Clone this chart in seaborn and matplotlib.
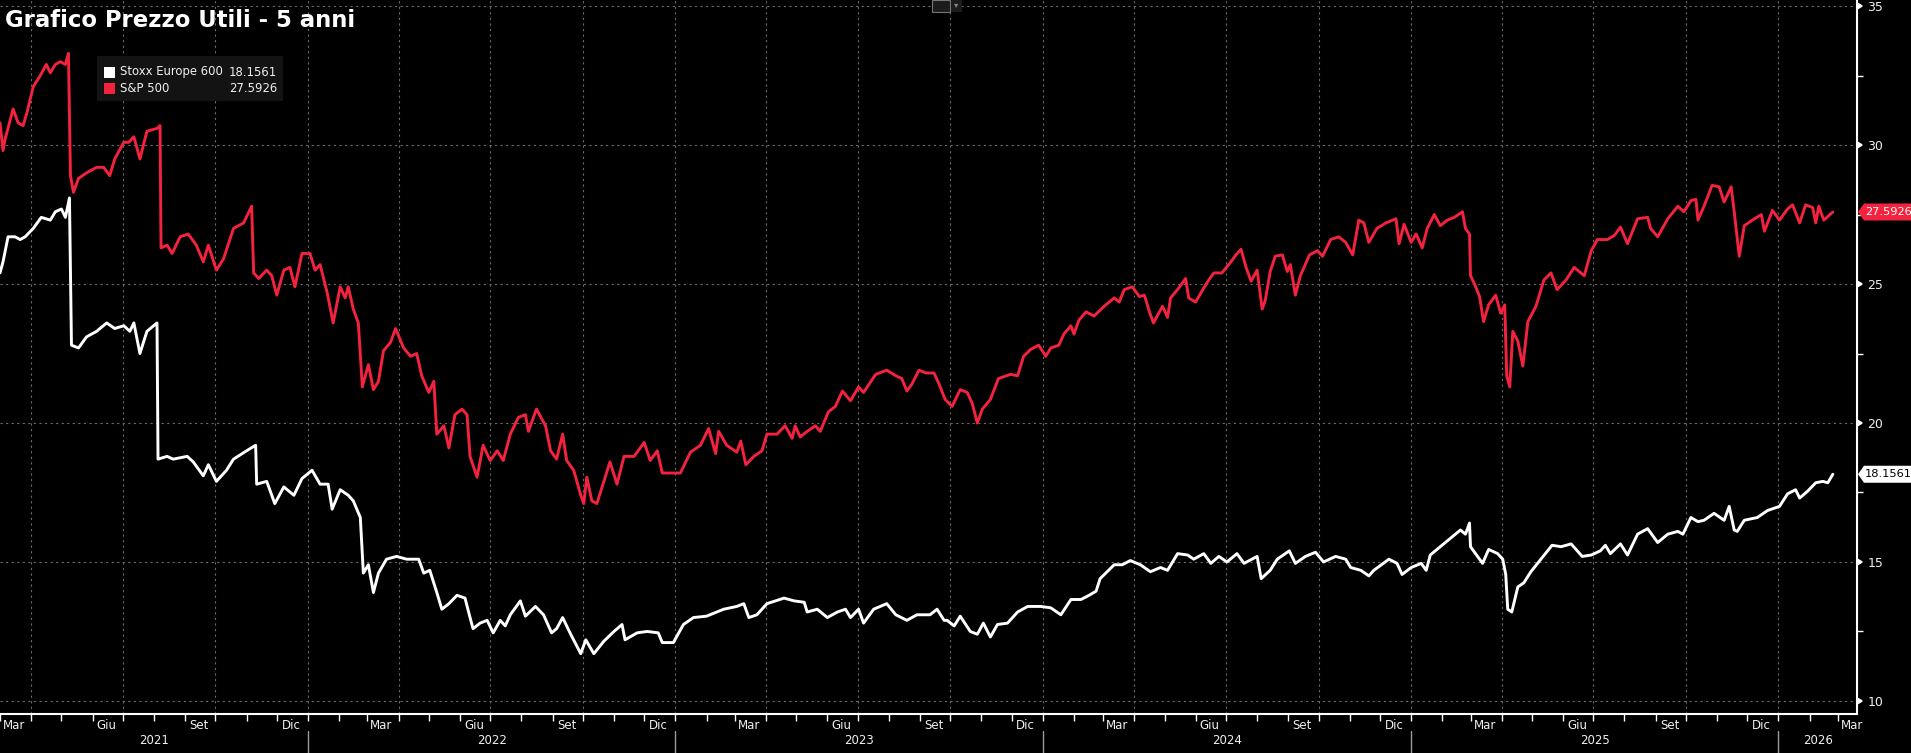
import matplotlib
matplotlib.use("Agg")
import matplotlib.pyplot as plt
import matplotlib.dates as mdates
import matplotlib.ticker as mticker
import matplotlib.transforms as mtransforms
import matplotlib.markers as mmarkers
from matplotlib.patches import Rectangle, Polygon
from matplotlib.lines import Line2D
import seaborn as sns
import pandas as pd

# ---------------- data ----------------
TITLE = "Grafico Prezzo Utili - 5 anni"
series_names = ["Stoxx Europe 600", "S&P 500"]
series_colors = ["#ffffff", "#f3223f"]
month_labels = {3: "Mar", 6: "Giu", 9: "Set", 12: "Dic"}
y_ticks = [10, 15, 20, 25, 30, 35]

sp_dates = [
    "2021-03-01", "2021-03-04", "2021-03-06", "2021-03-14", "2021-03-19", "2021-03-24", "2021-03-28", "2021-04-03", "2021-04-10", "2021-04-16",
    "2021-04-20", "2021-04-25", "2021-04-30", "2021-05-05", "2021-05-08", "2021-05-10", "2021-05-13", "2021-05-18", "2021-05-26", "2021-06-05",
    "2021-06-12", "2021-06-18", "2021-06-23", "2021-07-02", "2021-07-07", "2021-07-12", "2021-07-18", "2021-07-25", "2021-08-04", "2021-08-07",
    "2021-08-08", "2021-08-14", "2021-08-19", "2021-08-27", "2021-09-04", "2021-09-12", "2021-09-19", "2021-09-24", "2021-10-02", "2021-10-09",
    "2021-10-19", "2021-10-29", "2021-11-06", "2021-11-08", "2021-11-13", "2021-11-21", "2021-11-26", "2021-12-01", "2021-12-08", "2021-12-14",
    "2021-12-19", "2021-12-26", "2022-01-03", "2022-01-08", "2022-01-13", "2022-01-20", "2022-01-26", "2022-02-02", "2022-02-07", "2022-02-10",
    "2022-02-15", "2022-02-20", "2022-02-24", "2022-03-02", "2022-03-07", "2022-03-12", "2022-03-17", "2022-03-24", "2022-03-29", "2022-04-06",
    "2022-04-13", "2022-04-19", "2022-04-24", "2022-05-01", "2022-05-06", "2022-05-09", "2022-05-16", "2022-05-21", "2022-05-27", "2022-06-03",
    "2022-06-08",
    "2022-06-11", "2022-06-18", "2022-06-24", "2022-07-01", "2022-07-08", "2022-07-14", "2022-07-21", "2022-07-29", "2022-08-05", "2022-08-08",
    "2022-08-16", "2022-08-25", "2022-08-30", "2022-09-05", "2022-09-11", "2022-09-15", "2022-09-22", "2022-09-29", "2022-10-02", "2022-10-05",
    "2022-10-10", "2022-10-15", "2022-10-22", "2022-10-28", "2022-11-04", "2022-11-11", "2022-11-21", "2022-12-01", "2022-12-07", "2022-12-14",
    "2022-12-19", "2022-12-27", "2023-01-06", "2023-01-16", "2023-01-26", "2023-02-03", "2023-02-10", "2023-02-13", "2023-02-21", "2023-03-03",
    "2023-03-07", "2023-03-12", "2023-03-20", "2023-03-28", "2023-04-02", "2023-04-12", "2023-04-20", "2023-04-27", "2023-04-30", "2023-05-05",
    "2023-05-12", "2023-05-20", "2023-05-25", "2023-06-02", "2023-06-09", "2023-06-16", "2023-06-24", "2023-07-02", "2023-07-07", "2023-07-19",
    "2023-07-30", "2023-08-08", "2023-08-14", "2023-08-19", "2023-08-24", "2023-08-31", "2023-09-07", "2023-09-15", "2023-09-20",
    "2023-09-26", "2023-10-03", "2023-10-11", "2023-10-18", "2023-10-23", "2023-10-28", "2023-11-02", "2023-11-10", "2023-11-18",
    "2023-11-30", "2023-12-07", "2023-12-13", "2023-12-20", "2023-12-28", "2024-01-04", "2024-01-09", "2024-01-17", "2024-01-22", "2024-01-29",
    "2024-02-01", "2024-02-06", "2024-02-13", "2024-02-21", "2024-03-02", "2024-03-12", "2024-03-17", "2024-03-22", "2024-03-30", "2024-04-06",
    "2024-04-11", "2024-04-16", "2024-04-20", "2024-04-29", "2024-05-04", "2024-05-07", "2024-05-15", "2024-05-22", "2024-05-25", "2024-06-01",
    "2024-06-08", "2024-06-14", "2024-06-19", "2024-06-27", "2024-07-06", "2024-07-11", "2024-07-16", "2024-07-21", "2024-07-26", "2024-08-01",
    "2024-08-06", "2024-08-09", "2024-08-14", "2024-08-19", "2024-08-26", "2024-08-31", "2024-09-03", "2024-09-08", "2024-09-13", "2024-09-22",
    "2024-09-30", "2024-10-05", "2024-10-13", "2024-10-21", "2024-10-28", "2024-11-04", "2024-11-10", "2024-11-15", "2024-11-20", "2024-11-28",
    "2024-12-07", "2024-12-17", "2024-12-20", "2024-12-25",
    "2025-01-01", "2025-01-06", "2025-01-12", "2025-01-17", "2025-01-24", "2025-01-30", "2025-02-06", "2025-02-13", "2025-02-21", "2025-02-24",
    "2025-02-28", "2025-03-01", "2025-03-05", "2025-03-10", "2025-03-14", "2025-03-19", "2025-03-26", "2025-03-31", "2025-04-04", "2025-04-06",
    "2025-04-09", "2025-04-12", "2025-04-17", "2025-04-22", "2025-04-27", "2025-05-05", "2025-05-13", "2025-05-20", "2025-05-26", "2025-06-04",
    "2025-06-12", "2025-06-22", "2025-06-29", "2025-07-05", "2025-07-15", "2025-07-22", "2025-07-28", "2025-08-04", "2025-08-14", "2025-08-24",
    "2025-08-27", "2025-09-03", "2025-09-13", "2025-09-23", "2025-09-29", "2025-10-06", "2025-10-11", "2025-10-13", "2025-10-19", "2025-10-27",
    "2025-11-03", "2025-11-08", "2025-11-15", "2025-11-18", "2025-11-23", "2025-11-28", "2025-12-06", "2025-12-15", "2025-12-18", "2025-12-26",
    "2026-01-02", "2026-01-10", "2026-01-15", "2026-01-22", "2026-01-28", "2026-02-04", "2026-02-07", "2026-02-10", "2026-02-15", "2026-02-24",
]
sp_values = [
    30.8, 29.8, 30.2, 31.3, 30.8, 30.7, 31.2, 32.1, 32.5, 32.9,
    32.6, 32.9, 33.0, 32.9, 33.3, 28.9, 28.3, 28.8, 29.0, 29.2,
    29.2, 28.9, 29.5, 30.1, 30.1, 30.3, 29.5, 30.5, 30.6, 30.7,
    26.3, 26.4, 26.1, 26.7, 26.8, 26.4, 25.8, 26.4, 25.5, 25.9,
    27.0, 27.2, 27.8, 25.4, 25.2, 25.5, 25.3, 24.6, 25.5, 25.6,
    24.9, 26.1, 26.1, 25.5, 25.7, 24.7, 23.6, 24.9, 24.5, 24.9,
    24.1, 23.6, 21.3, 22.1, 21.2, 21.5, 22.6, 22.9, 23.4, 22.7,
    22.4, 22.5, 21.7, 21.1, 21.5, 19.6, 19.9, 19.1, 20.3, 20.5,
    20.3,
    18.8, 18.05, 19.2, 18.65, 19.0, 18.65, 19.6, 20.2, 20.3, 19.7,
    20.5, 19.9, 19.0, 18.7, 19.6, 18.65, 18.3, 17.4, 17.1, 18.05,
    17.2, 17.1, 17.9, 18.6, 17.8, 18.8, 18.8, 19.3, 18.65, 19.0,
    18.2, 18.2, 18.2, 18.95, 19.2, 19.8, 18.9, 19.7, 19.2, 18.95,
    19.35, 18.5, 18.8, 19.0, 19.6, 19.6, 19.9, 19.45, 19.9, 19.5,
    19.7, 19.9, 19.7, 20.4, 20.6, 21.15, 20.8, 21.3, 21.1, 21.75,
    21.9, 21.7, 21.6, 21.15, 21.4, 21.9, 21.8, 21.8, 21.4,
    20.85, 20.6, 21.2, 21.1, 20.7, 20.0, 20.5, 20.85, 21.6,
    21.75, 21.7, 22.4, 22.65, 22.8, 22.4, 22.7, 22.8, 23.2, 23.5,
    23.2, 23.7, 24.0, 23.85, 24.2, 24.5, 24.35, 24.8, 24.9, 24.55,
    24.6, 24.0, 23.6, 24.2, 23.8, 24.5, 24.85, 25.2, 24.5, 24.35,
    24.8, 25.15, 25.4, 25.4, 25.8, 26.05, 26.25, 25.6, 25.1, 25.5,
    24.1, 24.4, 25.45, 26.0, 26.05, 25.45, 25.7, 24.6, 25.3, 26.05,
    26.2, 26.0, 26.6, 26.7, 26.5, 26.05, 27.3, 27.2, 26.5, 27.0,
    27.2, 27.35, 26.45, 27.15,
    26.5, 26.8, 26.3, 27.0, 27.5, 27.1, 27.3, 27.4, 27.6, 27.0,
    26.8, 25.3, 25.0, 24.55, 23.65, 24.25, 24.6, 23.95, 24.25, 21.7,
    21.3, 23.3, 22.95, 22.05, 23.65, 24.2, 25.15, 25.4, 24.8, 25.15,
    25.6, 25.3, 26.2, 26.6, 26.6, 26.75, 27.05, 26.45, 27.35, 27.4,
    27.0, 26.7, 27.35, 27.8, 27.6, 28.0, 28.05, 27.3, 27.8, 28.55,
    28.5, 27.95, 28.5, 27.6, 26.0, 27.1, 27.3, 27.5, 26.9, 27.65,
    27.3, 27.7, 27.85, 27.2, 27.85, 27.75, 27.2, 27.8, 27.3, 27.5926,
]

sx_dates = [
    "2021-03-01", "2021-03-04", "2021-03-09", "2021-03-16", "2021-03-21", "2021-03-26", "2021-04-03", "2021-04-11", "2021-04-20", "2021-04-25",
    "2021-05-01", "2021-05-05", "2021-05-09", "2021-05-11", "2021-05-18", "2021-05-26", "2021-06-05", "2021-06-15", "2021-06-23", "2021-07-02",
    "2021-07-08", "2021-07-12", "2021-07-18", "2021-07-25", "2021-08-04", "2021-08-05", "2021-08-14", "2021-08-20", "2021-09-03", "2021-09-09",
    "2021-09-19", "2021-09-24", "2021-10-02", "2021-10-12", "2021-10-19", "2021-11-01", "2021-11-10", "2021-11-11", "2021-11-21", "2021-11-29",
    "2021-12-08", "2021-12-18", "2021-12-26", "2022-01-05", "2022-01-13", "2022-01-21", "2022-01-25", "2022-02-02", "2022-02-10", "2022-02-15",
    "2022-02-22", "2022-02-25", "2022-03-02", "2022-03-07", "2022-03-12", "2022-03-20", "2022-03-30", "2022-04-09", "2022-04-21", "2022-04-26",
    "2022-05-02", "2022-05-09", "2022-05-14", "2022-05-21", "2022-05-29", "2022-06-06",
    "2022-06-11", "2022-06-14", "2022-06-21", "2022-06-28", "2022-07-04", "2022-07-11", "2022-07-16", "2022-07-21", "2022-07-31", "2022-08-05",
    "2022-08-15", "2022-08-23", "2022-08-31", "2022-09-05", "2022-09-11", "2022-09-19", "2022-09-29", "2022-10-04", "2022-10-12", "2022-10-22",
    "2022-11-01", "2022-11-09", "2022-11-12", "2022-11-24", "2022-12-04", "2022-12-15", "2022-12-19", "2022-12-30", "2023-01-09", "2023-01-19",
    "2023-02-01", "2023-02-18", "2023-03-03", "2023-03-10", "2023-03-15", "2023-03-23", "2023-04-02", "2023-04-19", "2023-04-29", "2023-05-09",
    "2023-05-12", "2023-05-22", "2023-06-01", "2023-06-11", "2023-06-19", "2023-06-24", "2023-07-02", "2023-07-07", "2023-07-17", "2023-07-30",
    "2023-08-08", "2023-08-19", "2023-08-29", "2023-09-11", "2023-09-18", "2023-09-25",
    "2023-09-28", "2023-10-05", "2023-10-11", "2023-10-21", "2023-10-28", "2023-11-03", "2023-11-10", "2023-11-17", "2023-11-27",
    "2023-12-07", "2023-12-17", "2023-12-30", "2024-01-09", "2024-01-19", "2024-01-29", "2024-02-08", "2024-02-16", "2024-02-23", "2024-02-27",
    "2024-03-12", "2024-03-20", "2024-03-28", "2024-04-07", "2024-04-17", "2024-04-27", "2024-05-04", "2024-05-14", "2024-05-24", "2024-05-30",
    "2024-06-09", "2024-06-16", "2024-06-24", "2024-07-02", "2024-07-12", "2024-07-19", "2024-08-01", "2024-08-05", "2024-08-14", "2024-08-21",
    "2024-09-02", "2024-09-08", "2024-09-18", "2024-09-28", "2024-10-06", "2024-10-18", "2024-10-28", "2024-11-02", "2024-11-12", "2024-11-20",
    "2024-11-25", "2024-12-10", "2024-12-18", "2024-12-23",
    "2025-01-01", "2025-01-11", "2025-01-16", "2025-01-20", "2025-01-30", "2025-02-09", "2025-02-19", "2025-02-24", "2025-02-28", "2025-03-01",
    "2025-03-06", "2025-03-13", "2025-03-19", "2025-03-28", "2025-04-02", "2025-04-05", "2025-04-07", "2025-04-11", "2025-04-17", "2025-04-23",
    "2025-04-30", "2025-05-10", "2025-05-21", "2025-05-30", "2025-06-09", "2025-06-20", "2025-06-29", "2025-07-08", "2025-07-13", "2025-07-18",
    "2025-07-28", "2025-08-04", "2025-08-14", "2025-08-24", "2025-09-03", "2025-09-13", "2025-09-23", "2025-09-28", "2025-10-06", "2025-10-13",
    "2025-10-19", "2025-10-29", "2025-11-08", "2025-11-13", "2025-11-18", "2025-11-21", "2025-11-28", "2025-12-11", "2025-12-21", "2026-01-02",
    "2026-01-10", "2026-01-18", "2026-01-22", "2026-01-30", "2026-02-07", "2026-02-14", "2026-02-19", "2026-02-24",
]
sx_values = [
    25.4, 25.8, 26.7, 26.7, 26.6, 26.7, 27.0, 27.4, 27.3, 27.6,
    27.7, 27.4, 28.1, 22.8, 22.7, 23.1, 23.3, 23.6, 23.4, 23.5,
    23.3, 23.6, 22.5, 23.3, 23.6, 18.7, 18.8, 18.7, 18.8, 18.6,
    18.1, 18.5, 17.9, 18.3, 18.7, 19.0, 19.2, 17.8, 17.9, 17.1,
    17.7, 17.4, 18.0, 18.3, 17.8, 17.8, 16.9, 17.6, 17.4, 17.2,
    16.6, 14.6, 14.9, 13.9, 14.6, 15.1, 15.2, 15.1, 15.1, 14.6,
    14.7, 13.9, 13.3, 13.5, 13.8, 13.7,
    13.0, 12.6, 12.8, 12.9, 12.45, 12.9, 12.7, 13.1, 13.6, 13.05,
    13.4, 13.1, 12.45, 12.6, 13.0, 12.4, 11.7, 12.2, 11.7, 12.15,
    12.5, 12.75, 12.2, 12.45, 12.5, 12.45, 12.1, 12.1, 12.75, 13.0,
    13.05, 13.3, 13.4, 13.5, 13.0, 13.1, 13.5, 13.7, 13.6, 13.55,
    13.2, 13.3, 13.0, 13.2, 13.3, 13.0, 13.3, 12.8, 13.3, 13.5,
    13.1, 12.9, 13.1, 13.1, 13.3, 12.9,
    12.9, 12.7, 13.05, 12.5, 12.4, 12.8, 12.3, 12.75, 12.8,
    13.2, 13.4, 13.4, 13.35, 13.1, 13.65, 13.65, 13.8, 13.95, 14.4,
    14.9, 14.9, 15.05, 14.9, 14.65, 14.8, 14.7, 15.3, 15.25, 15.1,
    15.3, 14.95, 15.2, 15.0, 15.3, 14.95, 15.2, 14.4, 14.7, 15.1,
    15.4, 14.95, 15.2, 15.35, 15.0, 15.2, 15.1, 14.8, 14.7, 14.5,
    14.7, 15.1, 14.95, 14.55,
    14.8, 14.95, 14.7, 15.25, 15.55, 15.85, 16.15, 16.0, 16.4, 15.55,
    15.3, 14.95, 15.45, 15.3, 15.1, 14.55, 13.3, 13.2, 14.1, 14.25,
    14.65, 15.1, 15.6, 15.55, 15.65, 15.2, 15.25, 15.4, 15.6, 15.3,
    15.65, 15.25, 16.0, 16.2, 15.7, 16.0, 16.1, 16.0, 16.6, 16.45,
    16.5, 16.75, 16.5, 17.0, 16.15, 16.1, 16.5, 16.6, 16.85, 17.0,
    17.45, 17.6, 17.3, 17.55, 17.85, 17.9, 17.85, 18.1561,
]

# ---------------- layout / style ----------------
W, H, DPI = 1911, 753, 100
AX_RIGHT_PX, AX_BOTTOM_PX = 1857, 714
X_START, X_END = pd.Timestamp("2021-03-01"), pd.Timestamp("2026-03-20")
Y_MIN, Y_MAX = 9.53, 35.22
GRID_COLOR = "#6a6a6a"
GRID_STYLE = (0, (2, 3))
TEXT_COLOR = "#f0f0f0"

sns.set_style("dark", {"axes.facecolor": "black", "figure.facecolor": "black"})
plt.rcParams["font.family"] = ["DejaVu Sans"]


def fx(px):
    return px / W


def fy(py):
    return 1 - py / H


fig = plt.figure(figsize=(W / DPI, H / DPI), dpi=DPI, facecolor="black")
ax = fig.add_axes([0, 1 - AX_BOTTOM_PX / H, AX_RIGHT_PX / W, AX_BOTTOM_PX / H])
ax.set_facecolor("black")

sx_df = pd.DataFrame({"date": pd.to_datetime(sx_dates), "value": sx_values})
sp_df = pd.DataFrame({"date": pd.to_datetime(sp_dates), "value": sp_values})

sns.lineplot(data=sx_df, x="date", y="value", color=series_colors[0], linewidth=2.1,
             ax=ax, zorder=3, estimator=None, sort=False)
sns.lineplot(data=sp_df, x="date", y="value", color=series_colors[1], linewidth=2.1,
             ax=ax, zorder=4, estimator=None, sort=False)

ax.set_xlim(X_START, X_END)
ax.set_ylim(Y_MIN, Y_MAX)
ax.set_xlabel("")
ax.set_ylabel("")

for side in ["top", "left"]:
    ax.spines[side].set_visible(False)
for side in ["right", "bottom"]:
    ax.spines[side].set_visible(True)
    ax.spines[side].set_color("white")
    ax.spines[side].set_linewidth(1.5)

# y axis (right)
ax.yaxis.tick_right()
ax.set_yticks(y_ticks)
ax.yaxis.set_major_formatter(mticker.FormatStrFormatter("%d"))
ax.yaxis.set_minor_locator(mticker.MultipleLocator(2.5))
ax.tick_params(axis="y", which="major", direction="out", length=6, width=1.2,
               colors="white", labelcolor=TEXT_COLOR, labelsize=9, pad=1.5,
               left=False, right=True)
ax.tick_params(axis="y", which="minor", direction="out", length=4, width=1,
               colors="white", left=False, right=True)
for t in ax.yaxis.get_major_ticks():
    t.tick2line.set_marker(mmarkers.CARETRIGHTBASE)
    t.tick2line.set_markersize(5)
ax.yaxis.grid(True, which="major", color=GRID_COLOR, linestyle=GRID_STYLE, linewidth=0.8, zorder=0)
ax.xaxis.grid(False)

# x axis
ax.xaxis.set_major_locator(mdates.MonthLocator(bymonth=[3, 6, 9, 12], bymonthday=15))
ax.xaxis.set_major_formatter(
    mticker.FuncFormatter(lambda v, p: month_labels.get(mdates.num2date(v).month, "")))
ax.xaxis.set_minor_locator(mdates.MonthLocator(bymonthday=1))
ax.tick_params(axis="x", which="major", length=0, pad=3.5, labelsize=8.5,
               labelcolor=TEXT_COLOR, bottom=True, top=False)
ax.tick_params(axis="x", which="minor", direction="out", length=5, width=1,
               colors="white", bottom=True, top=False)

# quarter gridlines
for d in pd.date_range("2021-04-01", "2026-01-01", freq="QS-JAN"):
    ax.axvline(d, color=GRID_COLOR, linestyle=GRID_STYLE, linewidth=0.8, zorder=0)

# year labels and separators
blend = mtransforms.blended_transform_factory(ax.transData, ax.transAxes)
lab_y = (AX_BOTTOM_PX - 740) / AX_BOTTOM_PX
sep_y0 = (AX_BOTTOM_PX - 731) / AX_BOTTOM_PX
sep_y1 = (AX_BOTTOM_PX - 753) / AX_BOTTOM_PX
for yr in range(X_START.year, X_END.year + 1):
    s = max(pd.Timestamp(f"{yr}-01-01"), X_START)
    e = min(pd.Timestamp(f"{yr + 1}-01-01"), X_END)
    mid = s + (e - s) / 2
    ax.text(mid, lab_y, str(yr), transform=blend, ha="center", va="center",
            color=TEXT_COLOR, fontsize=8.5, clip_on=False)
    if yr > X_START.year:
        ax.add_line(Line2D([pd.Timestamp(f"{yr}-01-01")] * 2, [sep_y0, sep_y1], transform=blend,
                           color="#9a9a9a", linewidth=1, clip_on=False))

# title
fig.text(fx(5), fy(27), TITLE, fontsize=16.4, fontweight="bold", color="white",
         ha="left", va="baseline")

# legend box
fig.patches.append(Rectangle((fx(97), fy(101)), fx(186), 45 / H, transform=fig.transFigure,
                             facecolor="#131313", edgecolor="none", zorder=5))
legend_rows = [(series_names[0], series_colors[0], sx_values[-1], 72),
               (series_names[1], series_colors[1], sp_values[-1], 88)]
for name, col, val, cy in legend_rows:
    fig.patches.append(Rectangle((fx(104), fy(cy + 6)), 11 / W, 11 / H, transform=fig.transFigure,
                                 facecolor=col, edgecolor="none", zorder=6))
    fig.text(fx(120), fy(cy), name, fontsize=8.4, color=TEXT_COLOR, ha="left", va="center", zorder=7)
    fig.text(fx(277), fy(cy), f"{val:.4f}", fontsize=8.4, color=TEXT_COLOR, ha="right", va="center", zorder=7)

# last-value tags on the right axis
tags = [(sp_df, series_colors[1], "white"), (sx_df, series_colors[0], "black")]
for df, fill, tcol in tags:
    last_d, last_v = df["date"].iloc[-1], df["value"].iloc[-1]
    ydisp = ax.transData.transform((mdates.date2num(last_d), last_v))[1]
    yp = H - ydisp
    pts = [(fx(1858), fy(yp)), (fx(1864), fy(yp - 8.5)), (fx(1911), fy(yp - 8.5)),
           (fx(1911), fy(yp + 8.5)), (fx(1864), fy(yp + 8.5))]
    fig.patches.append(Polygon(pts, closed=True, transform=fig.transFigure,
                               facecolor=fill, edgecolor="none", zorder=6))
    fig.text(fx(1865), fy(yp), f"{last_v:.4f}", fontsize=8.2, color=tcol,
             ha="left", va="center", zorder=7)

# small chart-type icon at the top
fig.patches.append(Rectangle((fx(932), fy(12)), 18 / W, 12 / H, transform=fig.transFigure,
                             facecolor="#1c1c1c", edgecolor="#777777", linewidth=0.8, zorder=6))
fig.patches.append(Rectangle((fx(951), fy(12)), 11 / W, 12 / H, transform=fig.transFigure,
                             facecolor="#1c1c1c", edgecolor="none", zorder=6))
fig.text(fx(956.5), fy(5), "▾", fontsize=6, color="#888888", ha="center", va="center", zorder=7)

fig.savefig("out.png", dpi=DPI, facecolor="black")
